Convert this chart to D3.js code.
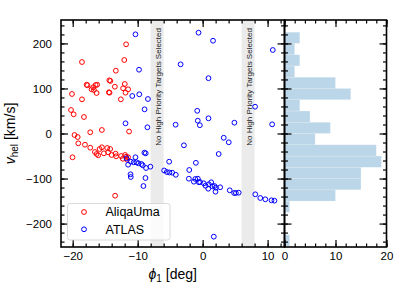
<!DOCTYPE html>
<html><head><meta charset="utf-8">
<script src="https://cdn.jsdelivr.net/npm/d3@7"></script>
<style>body{margin:0;background:#fff}svg{display:block}text{font-family:"Liberation Sans",Arial,sans-serif}</style>
</head><body>
<svg id="c" width="407" height="291"></svg>
<script>
// ---------- data ----------
const aliqaPhi = [-11.78,-18.57,-12.06,-13.36,-14.36,-14.20,-17.85,-17.73,-16.84,-16.47,-16.23,-17.09,-16.73,-16.32,
  -13.51,-14.43,-14.33,-11.98,-12.24,-11.47,-11.87,-12.59,-20.11,-18.57,-20.26,-19.85,-18.27,-15.51,-17.30,-11.32,
  -19.72,-19.23,-19.14,-18.11,-17.30,-20.03,-16.58,-16.32,-16.07,-15.86,-15.51,-15.20,-14.69,-14.23,-14.54,-14.02,
  -13.40,-13.31,-12.55,-12.29,-11.93,-11.78,-11.47,-11.63,-13.47];
const aliqaV = [198.0,158.7,163.2,139.4,118.1,116.6,108.3,107.0,102.6,107.7,108.3,98.1,96.6,89.9,
  103.9,91.5,90.6,109.9,100.4,98.1,90.6,75.9,87.7,75.9,52.2,42.6,36.6,7.8,2.7,4.4,
  -3.3,-7.8,-21.8,-24.9,-31.5,-52.8,-41.1,-45.5,-48.4,-34.4,-30.6,-44.0,-32.2,-34.4,-41.7,-47.7,
  -44.8,-50.6,-50.0,-56.0,-47.7,-51.5,-52.8,-58.2,-138.1];
const atlasPhi = [-10.34,-9.79,-10.83,-9.75,-8.42,-8.94,-11.87,-8.50,-0.63,1.60,10.80,-3.39,0.90,8.07,-0.83,-0.75,0.90,-0.43,
  -4.16,4.89,10.70,-2.88,3.25,4.02,2.47,-8.96,-8.76,-5.15,-1.04,-2.06,-5.92,-5.51,-5.11,-4.69,-4.13,-2.12,-1.35,-1.13,
  -0.74,-0.58,-0.40,0.18,0.44,0.95,1.32,0.86,1.52,1.83,2.02,1.98,2.70,4.17,4.85,5.12,5.55,8.10,8.87,9.65,10.60,11.05,
  1.72,-10.34,-11.47,-11.06,-10.60,-10.18,-9.88,-9.42,-9.22,-8.71,-8.04,-11.10,-11.06,-8.80,-9.11,-11.72];
const atlasV = [220.2,141.6,83.3,87.0,76.6,53.7,22.6,13.8,223.8,206.0,185.4,153.6,122.8,59.5,50.4,28.4,33.7,18.4,
  19.5,24.0,20.4,-26.2,-9.5,-19.5,-45.5,-42.6,-44.0,-62.6,-65.1,-81.0,-82.1,-85.5,-86.6,-87.0,-91.7,-100.4,-107.0,-101.0,
  -100.4,-108.3,-107.7,-110.6,-115.9,-112.8,-108.3,-122.6,-117.2,-116.6,-120.3,-129.2,-119.4,-126.1,-132.1,-132.1,-131.4,-135.0,-143.2,-146.1,-148.3,-149.2,
  -229.1,-52.8,-69.3,-62.6,-63.9,-63.9,-66.2,-67.7,-70.6,-76.6,-73.7,-90.6,-96.6,-98.8,-116.6,-55.1];
const histBinStart = [-250,-225,-200,-175,-150,-125,-100,-75,-50,-25,0,25,50,75,100,125,150,175,200];
const histCounts   = [1,0,0,1,10,15,15,19,18,6,9,5,3,13,10,2,3,2,3];
const histBinWidth = 25;
const bands = [[-8,-6],[6,8]];
const bandLabel = "No High Priority Targets Selected";
const xTicks = [-20,-10,0,10];
const yTicks = [-200,-100,0,100,200];
const histTicks = [0,10,20];
const seriesNames = ["AliqaUma","ATLAS"];
const seriesColors = ["#ff0000","#0000ff"];

// ---------- layout ----------
const svg = d3.select("#c");
const L = 61, R = 284.5, T = 20, B = 247, HR = 386.5;
const x = d3.scaleLinear().domain([-21.8,12.6]).range([L,R]);
const y = d3.scaleLinear().domain([-252,252]).range([B,T]);
const hx = d3.scaleLinear().domain([0,20]).range([R,HR]);

// bands
const gB = svg.append("g");
bands.forEach(b=>{
  gB.append("rect").attr("x",x(b[0])).attr("y",T).attr("width",x(b[1])-x(b[0])).attr("height",B-T).attr("fill","#ebebeb");
  const cx=(x(b[0])+x(b[1]))/2+0.8;
  gB.append("text").attr("transform",`translate(${cx},28) rotate(-90)`).attr("text-anchor","end")
    .attr("dy","0.35em").attr("font-size","8px").attr("fill","#222").text(bandLabel);
});

// histogram
svg.append("g").selectAll("rect").data(histCounts).join("rect")
  .attr("x",hx(0)).attr("y",(d,i)=>y(histBinStart[i]+histBinWidth))
  .attr("width",d=>hx(d)-hx(0)).attr("height",(d,i)=>y(histBinStart[i])-y(histBinStart[i]+histBinWidth))
  .attr("fill","#1f77b4").attr("fill-opacity",0.3).attr("stroke","#fff").attr("stroke-opacity",0.35).attr("stroke-width",0.6);

// points
function pts(px,py,col){
  svg.append("g").selectAll("circle").data(px).join("circle")
    .attr("cx",d=>x(d)).attr("cy",(d,i)=>y(py[i])).attr("r",2.4)
    .attr("fill","none").attr("stroke",col).attr("stroke-width",1);
}
pts(aliqaPhi,aliqaV,seriesColors[0]);
pts(atlasPhi,atlasV,seriesColors[1]);

// ticks helper
const minorRange=(a,b,s)=>d3.range(a,b+1e-9,s).map(v=>+v.toFixed(6));
function ticks(axisFn, scale, major, minor, transform, labels, pad){
  const gM = svg.append("g").attr("transform",transform)
    .call(axisFn(scale).tickValues(minor).tickSize(-3.5).tickFormat(""));
  const g = svg.append("g").attr("transform",transform)
    .call(axisFn(scale).tickValues(major).tickSize(-7).tickPadding(pad).tickFormat(labels?d3.format("d"):""));
  [gM,g].forEach(q=>{q.select(".domain").remove(); q.selectAll("line").attr("stroke","#000").attr("stroke-width",1.2);});
  g.selectAll("text").attr("font-size","11.5px").attr("fill","#000");
  return g;
}
// main panel
ticks(d3.axisLeft, y, yTicks, minorRange(-240,240,20), `translate(${L},0)`, true, 9);
ticks(d3.axisRight, y, yTicks, minorRange(-240,240,20), `translate(${R},0)`, false, 3);
ticks(d3.axisBottom, x, xTicks, minorRange(-20,12,2), `translate(0,${B})`, true, 5);
ticks(d3.axisTop, x, xTicks, minorRange(-20,12,2), `translate(0,${T})`, false, 3);
// histogram panel
ticks(d3.axisLeft, y, yTicks, minorRange(-240,240,20), `translate(${R},0)`, false, 3);
ticks(d3.axisRight, y, yTicks, minorRange(-240,240,20), `translate(${HR},0)`, false, 3);
ticks(d3.axisBottom, hx, histTicks, minorRange(0,20,2), `translate(0,${B})`, true, 5);
ticks(d3.axisTop, hx, histTicks, minorRange(0,20,2), `translate(0,${T})`, false, 3);

// frames
svg.append("rect").attr("x",L).attr("y",T).attr("width",R-L).attr("height",B-T).attr("fill","none").attr("stroke","#000").attr("stroke-width",1.6);
svg.append("rect").attr("x",R).attr("y",T).attr("width",HR-R).attr("height",B-T).attr("fill","none").attr("stroke","#000").attr("stroke-width",1.6);

// legend
const lg = svg.append("g");
lg.append("rect").attr("x",67.5).attr("y",203.5).attr("width",102.5).attr("height",36.5).attr("rx",2.5)
  .attr("fill","#fff").attr("fill-opacity",0.8).attr("stroke","#d0d0d0").attr("stroke-width",0.8);
seriesNames.forEach((n,i)=>{
  const yy = 212 + i*17.3;
  lg.append("circle").attr("cx",84).attr("cy",yy).attr("r",2.4).attr("fill","none").attr("stroke",seriesColors[i]).attr("stroke-width",1);
  lg.append("text").attr("x",105.5).attr("y",yy).attr("dy","0.35em").attr("font-size","12.5px").text(n);
});

// axis labels
const xl = svg.append("text").attr("x",(L+R)/2).attr("y",279).attr("text-anchor","middle").attr("font-size","14px");
xl.append("tspan").attr("font-style","italic").text("ϕ");
xl.append("tspan").attr("font-size","10px").attr("dy","2.5").text("1");
xl.append("tspan").attr("dy","-2.5").text(" [deg]");
const yl = svg.append("text").attr("transform",`translate(15,${(T+B)/2}) rotate(-90)`).attr("text-anchor","middle").attr("font-size","14px");
yl.append("tspan").attr("font-style","italic").text("v");
yl.append("tspan").attr("font-size","10px").attr("dy","2.5").text("hel");
yl.append("tspan").attr("dy","-2.5").text(" [km/s]");
</script>
</body></html>
